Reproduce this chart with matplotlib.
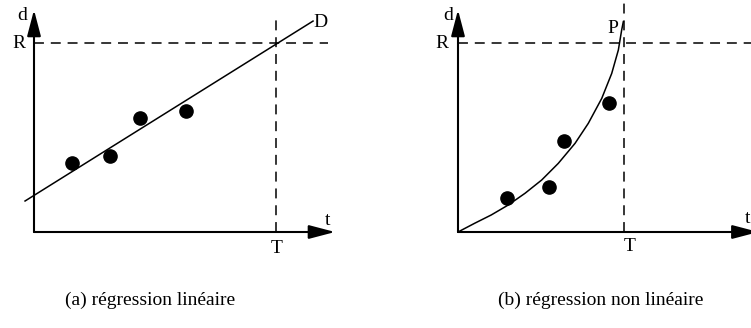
import matplotlib
matplotlib.use("Agg")
import matplotlib.pyplot as plt

plt.rcParams["font.family"] = ["Liberation Serif", "DejaVu Serif"]

# threshold values
T = 10.0
R = 10.0

# (a) linear regression
t_pts_a = [1.57, 3.14, 4.38, 6.28]
d_pts_a = [3.65, 4.02, 6.03, 6.40]
line_t_a = [-0.37, 11.53]
line_d_a = [1.64, 11.16]

# (b) non linear regression
t_pts_b = [2.97, 5.48, 6.39, 9.10]
d_pts_b = [1.81, 2.40, 4.81, 6.81]
curve_t_b = [0, 1.0, 2.0, 3.03, 4.04, 5.04, 6.04, 7.05, 7.85, 8.66, 9.26, 9.66, 9.86, 9.96]
curve_d_b = [0, 0.46, 0.90, 1.43, 2.05, 2.75, 3.63, 4.69, 5.75, 7.07, 8.39, 9.63, 10.69, 11.13]

captions = ["(a) régression linéaire", "(b) régression non linéaire"]

W, H = 751, 328
fig = plt.figure(figsize=(W / 100, H / 100), dpi=100)


def make_axes(px0, px1, origin, sx, sy, top=270):
    # axes covering pixels [px0, px1] x [0, top], data origin at pixel `origin`
    ax = fig.add_axes([px0 / W, (H - top) / H, (px1 - px0) / W, top / H])
    ox, oy = origin
    ax.set_xlim((px0 - ox) / sx, (px1 - ox) / sx)
    ax.set_ylim((oy - top) / sy, oy / sy)
    ax.axis("off")
    return ax


def axis_arrow(ax, tip):
    ax.annotate("", xy=tip, xytext=(0, 0), annotation_clip=False,
                arrowprops=dict(arrowstyle="-|>,head_length=1.6,head_width=0.42",
                                mutation_scale=10, lw=1.5, color="black",
                                shrinkA=0, shrinkB=0))


dash = (0, (6.5, 4.5))
fs = 14

# ---- panel (a)
ax = make_axes(0, 375, (34, 232), 24.2, 18.9)
ax.plot([0, 12.15], [R, R], color="black", lw=1.1, ls=dash)
ax.plot([T, T], [0, 11.2], color="black", lw=1.1, ls=dash)
axis_arrow(ax, (12.44, 0))
axis_arrow(ax, (0, 11.75))
ax.plot(line_t_a, line_d_a, color="black", lw=1.1)
ax.plot(t_pts_a, d_pts_a, "o", color="black", ms=9.5)
ax.text(-0.50, 11.48, "d", fontsize=fs, ha="center", va="center")
ax.text(-0.64, 9.97, "R", fontsize=fs, ha="center", va="center")
ax.text(11.82, 11.11, "D", fontsize=fs, ha="center", va="center")
ax.text(12.11, 0.63, "t", fontsize=fs, ha="center", va="center")
ax.text(10.04, -0.85, "T", fontsize=fs, ha="center", va="center")

# ---- panel (b)
ax = make_axes(375, 751, (458, 232), 16.6, 18.9)
ax.plot([0, 17.65], [R, R], color="black", lw=1.1, ls=dash)
ax.plot([T, T], [0, 12.2], color="black", lw=1.1, ls=dash)
axis_arrow(ax, (18.1, 0))
axis_arrow(ax, (0, 11.75))
ax.plot(curve_t_b, curve_d_b, color="black", lw=1.1)
ax.plot(t_pts_b, d_pts_b, "o", color="black", ms=9.5)
ax.text(-0.60, 11.48, "d", fontsize=fs, ha="center", va="center")
ax.text(-0.96, 9.95, "R", fontsize=fs, ha="center", va="center")
ax.text(9.34, 10.79, "P", fontsize=fs, ha="center", va="center")
ax.text(17.47, 0.69, "t", fontsize=fs, ha="center", va="center")
ax.text(10.36, -0.79, "T", fontsize=fs, ha="center", va="center")

# captions
fig.text(150 / W, 1 - 300 / H, captions[0], fontsize=14, ha="center", va="center")
fig.text(601 / W, 1 - 300 / H, captions[1], fontsize=14, ha="center", va="center")

fig.savefig("out.png", dpi=100)
